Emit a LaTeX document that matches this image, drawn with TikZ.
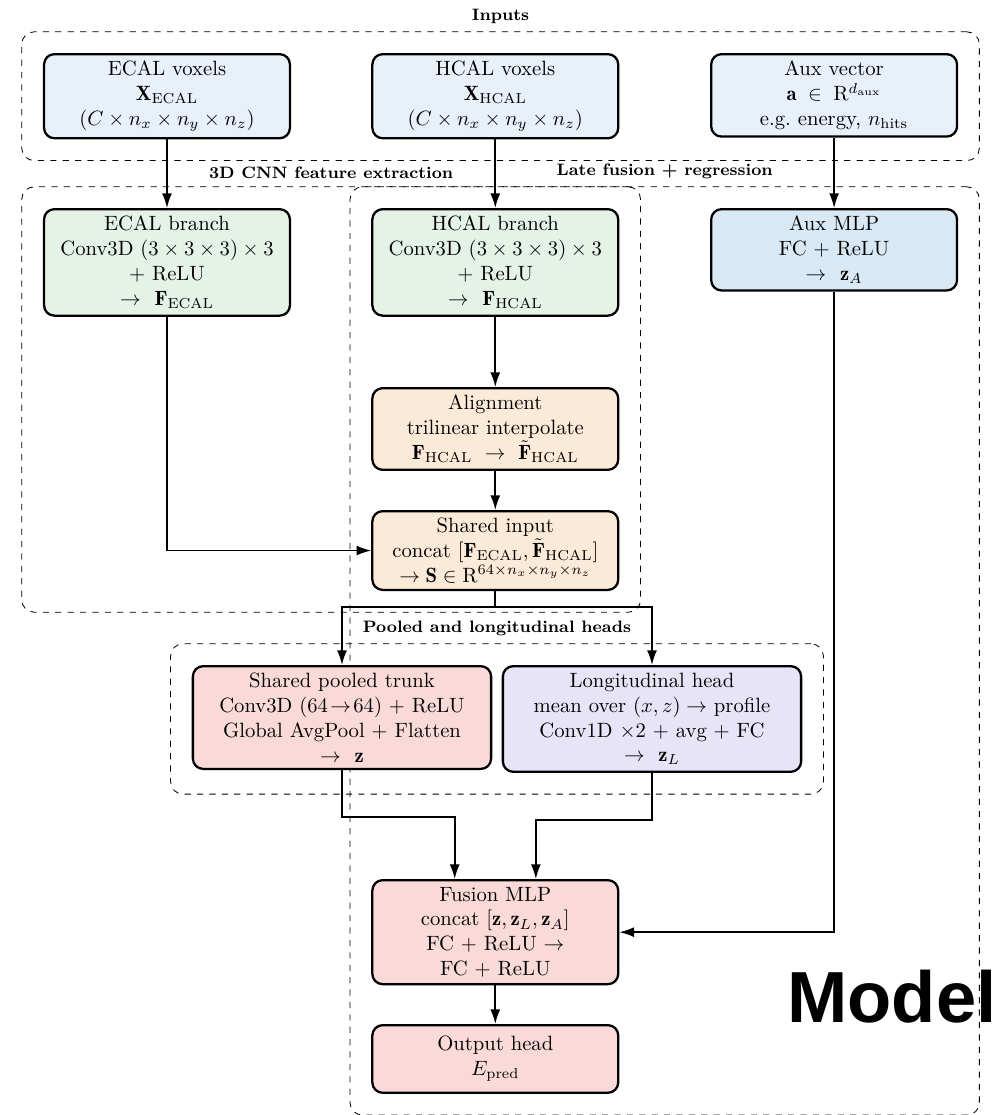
\documentclass[tikz,border=0pt]{standalone}
\usepackage{amsmath,amssymb}
\usepackage{fontspec}
\newfontfamily\modelfont{Liberation Sans}
\usepackage{tikz}
\usetikzlibrary{arrows.meta,positioning,calc,fit,backgrounds}

\definecolor{inblue}{RGB}{232,240,250}
\definecolor{auxblue}{RGB}{217,232,245}
\definecolor{cnngreen}{RGB}{229,242,232}
\definecolor{alorange}{RGB}{252,234,216}
\definecolor{fusred}{RGB}{249,218,216}
\definecolor{lonpurple}{RGB}{230,228,246}

\begin{document}
\begin{tikzpicture}[
    box/.style={draw, line width=1.1pt, rounded corners=5pt, align=center, anchor=north,
                minimum width=4.18cm, minimum height=1.15cm},
    headbox/.style={box, minimum width=5.07cm},
    grp/.style={draw, dashed, rounded corners=6pt, inner sep=0.36cm},
    lbl/.style={font=\footnotesize\bfseries},
    arr/.style={-{Latex[length=2.5mm,width=1.7mm]}, thick}
]
\useasboundingbox (0,0) rectangle (16.95,-18.955);

% inputs
\node[box, fill=inblue] (ecalin) at (2.839,-0.901) {ECAL voxels\\ $\mathbf{X}_{\mathrm{ECAL}}$\\ $(C\times n_x\times n_y\times n_z)$};
\node[box, fill=inblue] (hcalin) at (8.42,-0.901) {HCAL voxels\\ $\mathbf{X}_{\mathrm{HCAL}}$\\ $(C\times n_x\times n_y\times n_z)$};
\node[box, fill=inblue] (auxin) at (14.18,-0.901) {Aux vector\\ $\mathbf{a}\;\in\;\mathrm{R}^{d_{\mathrm{aux}}}$\\ e.g.\ energy, $n_{\mathrm{hits}}$};

% 3D CNN branches
\node[box, fill=cnngreen] (ecalb) at (2.839,-3.536) {ECAL branch\\ Conv3D $(3\times3\times3)\times3$\\ + ReLU\\ $\rightarrow$\ \ $\mathbf{F}_{\mathrm{ECAL}}$};
\node[box, fill=cnngreen] (hcalb) at (8.42,-3.536) {HCAL branch\\ Conv3D $(3\times3\times3)\times3$\\ + ReLU\\ $\rightarrow$\ \ $\mathbf{F}_{\mathrm{HCAL}}$};
\node[box, fill=auxblue] (auxmlp) at (14.18,-3.536) {Aux MLP\\ FC + ReLU\\ $\rightarrow$\ \ $\mathbf{z}_A$};
\node[box, fill=alorange] (align) at (8.42,-6.579) {Alignment\\ trilinear interpolate\\ $\mathbf{F}_{\mathrm{HCAL}}\ \rightarrow\ \tilde{\mathbf{F}}_{\mathrm{HCAL}}$};
\node[box, fill=alorange] (shared) at (8.42,-8.67) {Shared input\\ concat $[\mathbf{F}_{\mathrm{ECAL}},\tilde{\mathbf{F}}_{\mathrm{HCAL}}]$\\ $\rightarrow\mathbf{S}\in\mathrm{R}^{64\times n_x\times n_y\times n_z}$};

% heads
\node[headbox, fill=fusred] (pooled) at (5.814,-11.305) {Shared pooled trunk\\ Conv3D $(64\!\rightarrow\!64)$ + ReLU\\ Global AvgPool + Flatten\\ $\rightarrow$\ \ $\mathbf{z}$};
\node[headbox, fill=lonpurple] (longh) at (11.084,-11.305) {Longitudinal head\\ mean over $(x,z)\rightarrow$ profile\\ Conv1D $\times2$ + avg + FC\\ $\rightarrow$\ \ $\mathbf{z}_L$};

% fusion
\node[box, fill=fusred] (fusion) at (8.42,-14.943) {Fusion MLP\\ concat $[\mathbf{z},\mathbf{z}_L,\mathbf{z}_A]$\\ FC + ReLU $\rightarrow$\\ FC + ReLU};
\node[box, fill=fusred] (output) at (8.42,-17.408) {Output head\\ $E_{\mathrm{pred}}$};

\node[anchor=base west, inner sep=0pt, font=\modelfont\bfseries\fontsize{35}{40}\selectfont] (model) at (13.38,-17.39) {Model};

% groups
\begin{scope}[on background layer]
\node[grp, fit=(ecalin)(hcalin)(auxin), label={[lbl]above:Inputs}] (ginputs) {};
\node[grp, fit=(ecalb)(hcalb)(align)(shared), label={[lbl]above:3D CNN feature extraction}] (gcnn) {};
\node[grp, fit=(auxmlp)(fusion)(output), label={[lbl]above:Late fusion + regression}] (glate) {};
\node[grp, fit=(pooled)(longh), label={[lbl]above:Pooled and longitudinal heads}] (gheads) {};
\end{scope}

\draw[arr] (ecalin) -- (ecalb);
\draw[arr] (hcalin) -- (hcalb);
\draw[arr] (auxin) -- (auxmlp);
\draw[arr] (hcalb) -- (align);
\draw[arr] (align) -- (shared);
\draw[arr] (ecalb.south) |- (shared.west);
\draw[arr] (shared.south) -- ++(0,-0.27) -| (pooled.north);
\draw[arr] (shared.south) -- ++(0,-0.27) -| (longh.north);
\draw[arr] (pooled.south) -- ++(0,-0.8) -| ([xshift=-0.69cm]fusion.north);
\draw[arr] (longh.south) -- ++(0,-0.8) -| ([xshift=0.69cm]fusion.north);
\draw[arr] (auxmlp.south) |- (fusion.east);
\draw[arr] (fusion) -- (output);
\end{tikzpicture}
\end{document}
